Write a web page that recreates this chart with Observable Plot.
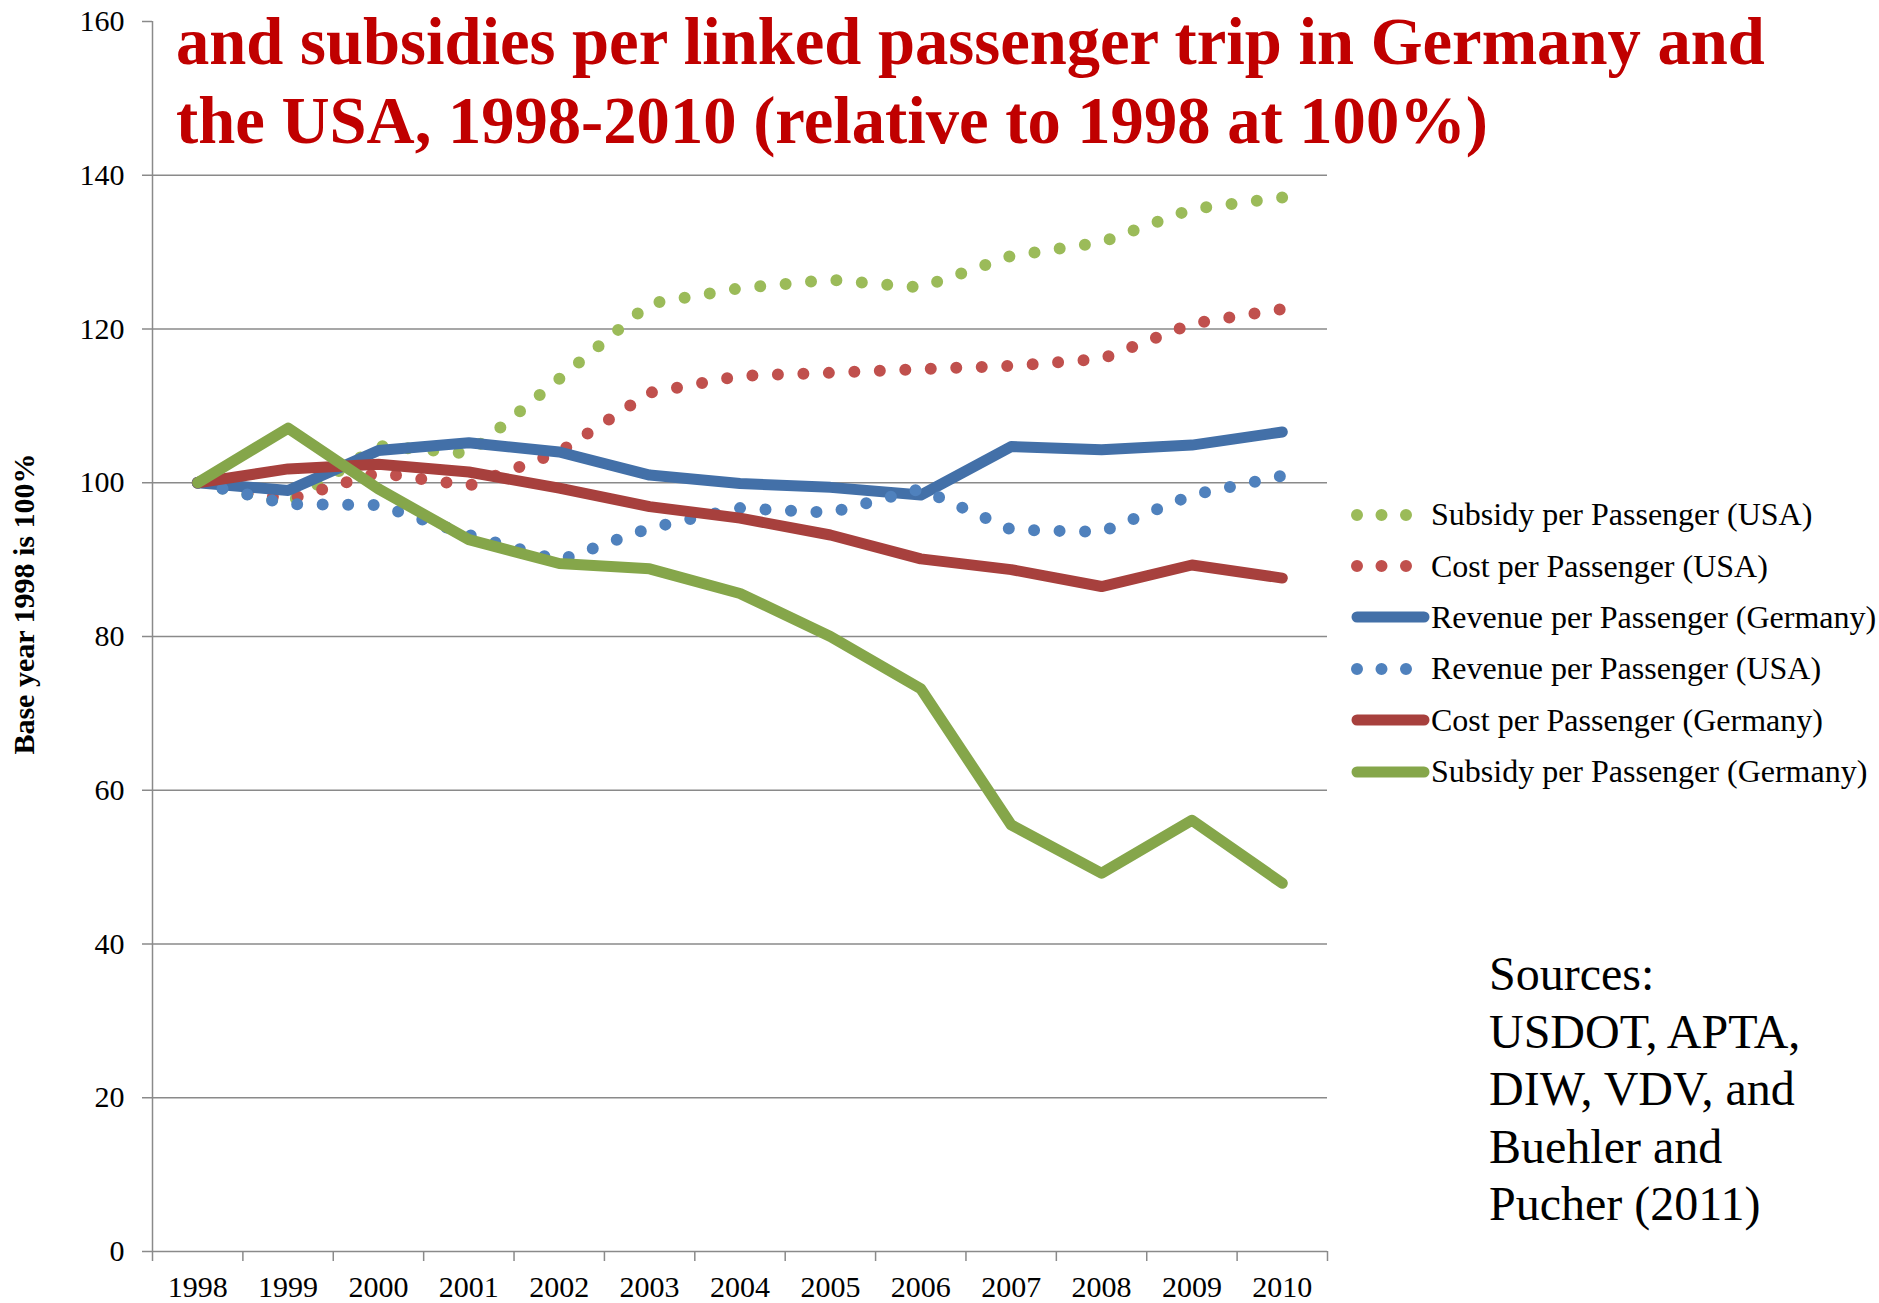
<!DOCTYPE html>
<html><head><meta charset="utf-8">
<script src="https://cdn.jsdelivr.net/npm/d3@7"></script>
<script src="https://cdn.jsdelivr.net/npm/@observablehq/plot@0.6"></script>
<style>
body{margin:0;background:#fff;}
#wrap{position:relative;width:1879px;height:1303px;overflow:hidden;font-family:"Liberation Serif","Times New Roman",serif;color:#000;}
#wrap > svg{position:absolute;left:0;top:0;}
#wrap > svg text{font-family:"Liberation Serif","Times New Roman",serif !important;}
.title{position:absolute;left:176px;top:2px;font-size:66.6px;line-height:79px;font-weight:bold;color:#C00000;white-space:nowrap;}
.ylab{position:absolute;left:-176px;top:586px;width:400px;text-align:center;font-size:30px;line-height:36px;font-weight:bold;transform:rotate(-90deg);white-space:nowrap;}
.legend{position:absolute;left:1351px;top:489px;}
.legend .row{display:flex;align-items:center;height:51.4px;white-space:nowrap;font-size:32px;}
.legend .row svg{display:block;margin-right:1px;flex:none;}
.sources{position:absolute;left:1489px;top:945px;font-size:48px;line-height:57.5px;}
</style></head><body><div id="wrap"></div><script>
const years = [1998,1999,2000,2001,2002,2003,2004,2005,2006,2007,2008,2009,2010];
const subsidyUSA     = [100, 97.3, 104.8, 103.8, 113.5, 123.3, 125.3, 126.4, 125.4, 129.5, 131.3, 135.6, 137.1];
const costUSA        = [100, 97.8, 101.3, 99.6, 104.0, 111.7, 113.9, 114.3, 114.8, 115.2, 116.1, 120.7, 122.6];
const revenueGermany = [100, 99.0, 104.2, 105.2, 104.0, 101.0, 99.9, 99.4, 98.4, 104.7, 104.3, 104.9, 106.6];
const revenueUSA     = [100, 97.2, 97.1, 93.2, 89.9, 94.1, 96.7, 96.1, 99.2, 93.9, 93.6, 98.4, 100.9];
const costGermany    = [100, 101.8, 102.4, 101.4, 99.3, 96.9, 95.4, 93.2, 90.1, 88.7, 86.5, 89.3, 87.6];
const subsidyGermany = [100, 107.1, 99.2, 92.6, 89.5, 88.8, 85.6, 80.0, 73.2, 55.5, 49.2, 56.1, 47.9];
const seriesNames = ["Subsidy per Passenger (USA)","Cost per Passenger (USA)","Revenue per Passenger (Germany)","Revenue per Passenger (USA)","Cost per Passenger (Germany)","Subsidy per Passenger (Germany)"];
const seriesValues = [subsidyUSA, costUSA, revenueGermany, revenueUSA, costGermany, subsidyGermany];
const seriesColors = ["#9BBB59","#C0504D","#4370A8","#4F81BD","#A7403D","#85A64A"];
const seriesDotted = [true, true, false, true, false, false];
const yTicks = [0,20,40,60,80,100,120,140,160];
const gridTicks = [20,40,60,80,100,120,140];
const titleLines = ["and subsidies per linked passenger trip in Germany and","the USA, 1998-2010 (relative to 1998 at 100%)"];
const yLabel = "Base year 1998 is 100%";
const sourceLines = ["Sources:","USDOT, APTA,","DIW, VDV, and","Buehler and","Pucher (2011)"];

const boundaries = years.map(y => y - 0.5).concat([years[years.length-1] + 0.5]);
const rows = seriesNames.flatMap((name, s) => years.map((year, i) => ({series: name, year, value: seriesValues[s][i]})));
const grid = "#8a8a8a";
const font = '"Liberation Serif","Times New Roman",serif';

const lineMarks = seriesNames.map((name, s) => Plot.line(rows.filter(r => r.series === name), {
  x: "year", y: "value", stroke: seriesColors[s], strokeWidth: seriesDotted[s] ? 12 : 11,
  strokeLinecap: "round", strokeLinejoin: "round",
  strokeDasharray: seriesDotted[s] ? "0 25.5" : null
}));

const chart = Plot.plot({
  width: 1879, height: 1303,
  marginLeft: 152, marginRight: 552, marginTop: 21, marginBottom: 52,
  style: {fontFamily: font, fontSize: "30px", color: "#000", background: "transparent", overflow: "visible"},
  x: {type: "linear", domain: [boundaries[0], boundaries[boundaries.length-1]]},
  y: {domain: [0, 160]},
  marks: [
    Plot.gridY(gridTicks, {stroke: grid, strokeOpacity: 1, strokeWidth: 1.5}),
    Plot.ruleY([0], {stroke: grid, strokeWidth: 1.5}),
    Plot.ruleX([boundaries[0]], {stroke: grid, strokeWidth: 1.5}),
    Plot.axisY(yTicks, {tickSize: 10, tickPadding: 18, stroke: grid, strokeWidth: 1.5, fill: "#000", label: null, tickFormat: d => String(d)}),
    Plot.axisX(boundaries, {tickSize: 10, stroke: grid, strokeWidth: 1.5, tickFormat: () => "", label: null}),
    Plot.axisX(years, {tickSize: 0, tickPadding: 24, fill: "#000", tickFormat: d => String(d), label: null}),
    ...lineMarks
  ]
});

const wrap = document.getElementById("wrap");
wrap.appendChild(chart);

const title = document.createElement("div");
title.className = "title";
title.innerHTML = titleLines.join("<br>");
wrap.appendChild(title);

const yl = document.createElement("div");
yl.className = "ylab"; yl.textContent = yLabel;
wrap.appendChild(yl);

const legend = document.createElement("div");
legend.className = "legend";
seriesNames.forEach((name, s) => {
  const row = document.createElement("div");
  row.className = "row";
  const ns = "http://www.w3.org/2000/svg";
  const sw = document.createElementNS(ns, "svg");
  sw.setAttribute("width", 79); sw.setAttribute("height", 20);
  const ln = document.createElementNS(ns, "line");
  ln.setAttribute("x1", 6); ln.setAttribute("x2", seriesDotted[s] ? 57 : 73);
  ln.setAttribute("y1", 10); ln.setAttribute("y2", 10);
  ln.setAttribute("stroke", seriesColors[s]);
  ln.setAttribute("stroke-width", seriesDotted[s] ? 12 : 11);
  ln.setAttribute("stroke-linecap", "round");
  if (seriesDotted[s]) ln.setAttribute("stroke-dasharray", "0 24.5");
  sw.appendChild(ln);
  row.appendChild(sw);
  const t = document.createElement("span");
  t.textContent = name;
  row.appendChild(t);
  legend.appendChild(row);
});
wrap.appendChild(legend);

const src = document.createElement("div");
src.className = "sources";
src.innerHTML = sourceLines.join("<br>");
wrap.appendChild(src);
</script></body></html>
